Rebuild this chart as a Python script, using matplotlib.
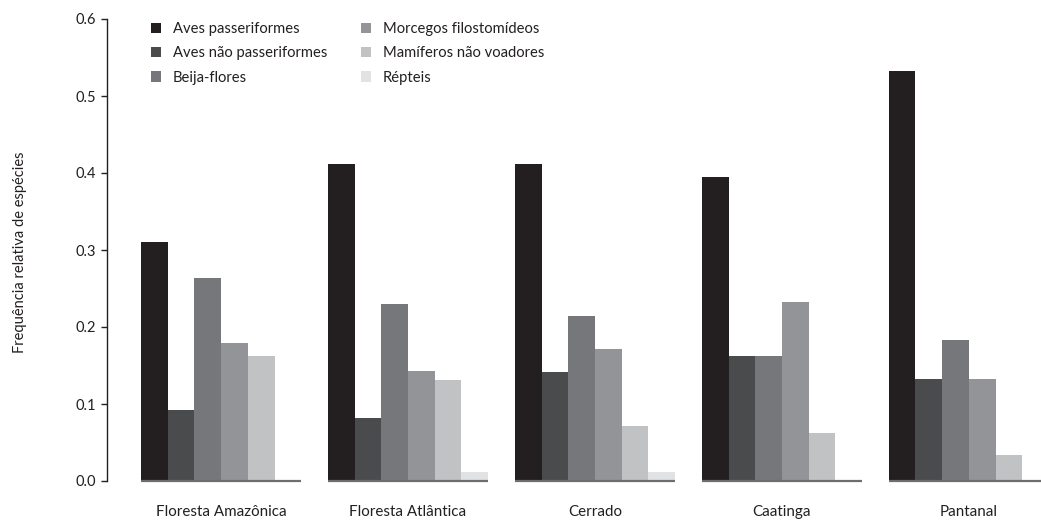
import matplotlib
matplotlib.use("Agg")
import matplotlib.pyplot as plt
from matplotlib.patches import Patch
import numpy as np

plt.rcParams['font.family'] = ['Lato', 'DejaVu Sans']

biomes = ["Floresta Amazônica", "Floresta Atlântica", "Cerrado", "Caatinga", "Pantanal"]
groups = ["Aves passeriformes", "Aves não passeriformes", "Beija-flores",
          "Morcegos filostomídeos", "Mamíferos não voadores", "Répteis"]

aves_passeriformes = [0.310, 0.412, 0.412, 0.395, 0.532]
aves_nao_passeriformes = [0.092, 0.082, 0.142, 0.162, 0.132]
beija_flores = [0.264, 0.230, 0.214, 0.162, 0.183]
morcegos_filostomideos = [0.179, 0.143, 0.171, 0.232, 0.132]
mamiferos_nao_voadores = [0.162, 0.131, 0.071, 0.062, 0.034]
repteis = [0.0, 0.012, 0.012, 0.0, 0.0]

series = [aves_passeriformes, aves_nao_passeriformes, beija_flores,
          morcegos_filostomideos, mamiferos_nao_voadores, repteis]
colors = ["#231F20", "#4A4B4D", "#76777B", "#939497", "#C1C2C4", "#E1E2E3"]
text_color = "#231F20"

W, H = 1041, 521
fig = plt.figure(figsize=(W / 100, H / 100), dpi=100)
ax = fig.add_axes([107 / W, 40 / H, 1 - 107 / W, 462 / H])

slot = 7  # six bars plus one bar of spacing per biome
base = np.arange(len(biomes)) * slot
for i, (vals, col) in enumerate(zip(series, colors)):
    ax.bar(base + i, vals, width=1.0, color=col, align="center", zorder=2, linewidth=0)

# baseline under each biome group
for b in base:
    ax.plot([b - 0.5, b + 5.5], [0, 0], color="#6D6E71", lw=1.6, zorder=3,
            solid_capstyle="butt", clip_on=False)

ax.set_xlim(-1.773, 33.2)
ax.set_ylim(0, 0.6)
ax.set_yticks(np.arange(0, 0.61, 0.1))
ax.set_yticklabels([f"{v:.1f}" for v in np.arange(0, 0.61, 0.1)])
ax.set_xticks(base + 2.5)
ax.set_xticklabels(biomes)

for s in ["top", "right", "bottom"]:
    ax.spines[s].set_visible(False)
ax.spines["left"].set_color(text_color)
ax.spines["left"].set_linewidth(1.0)
ax.tick_params(axis="y", length=4, width=1.0, color=text_color, pad=4,
               labelsize=10.5, labelcolor=text_color)
ax.tick_params(axis="x", length=0, pad=17.5, labelsize=10.9, labelcolor=text_color)

fig.text(20 / W, 1 - 252 / H, "Frequência relativa de espécies", rotation=90,
         ha="center", va="center", fontsize=10.5, color=text_color)

handles = [Patch(facecolor=c, edgecolor="none") for c in colors]
leg = ax.legend(handles, groups, ncol=2, frameon=False, loc="upper left",
                bbox_to_anchor=(151 / W, 1 - 22 / H), bbox_transform=fig.transFigure,
                borderpad=0, borderaxespad=0, handlelength=0.68, handleheight=0.68,
                handletextpad=0.8, labelspacing=0.7, columnspacing=2.3,
                fontsize=10.6)
for t in leg.get_texts():
    t.set_color(text_color)

fig.savefig("out.png", dpi=100)
